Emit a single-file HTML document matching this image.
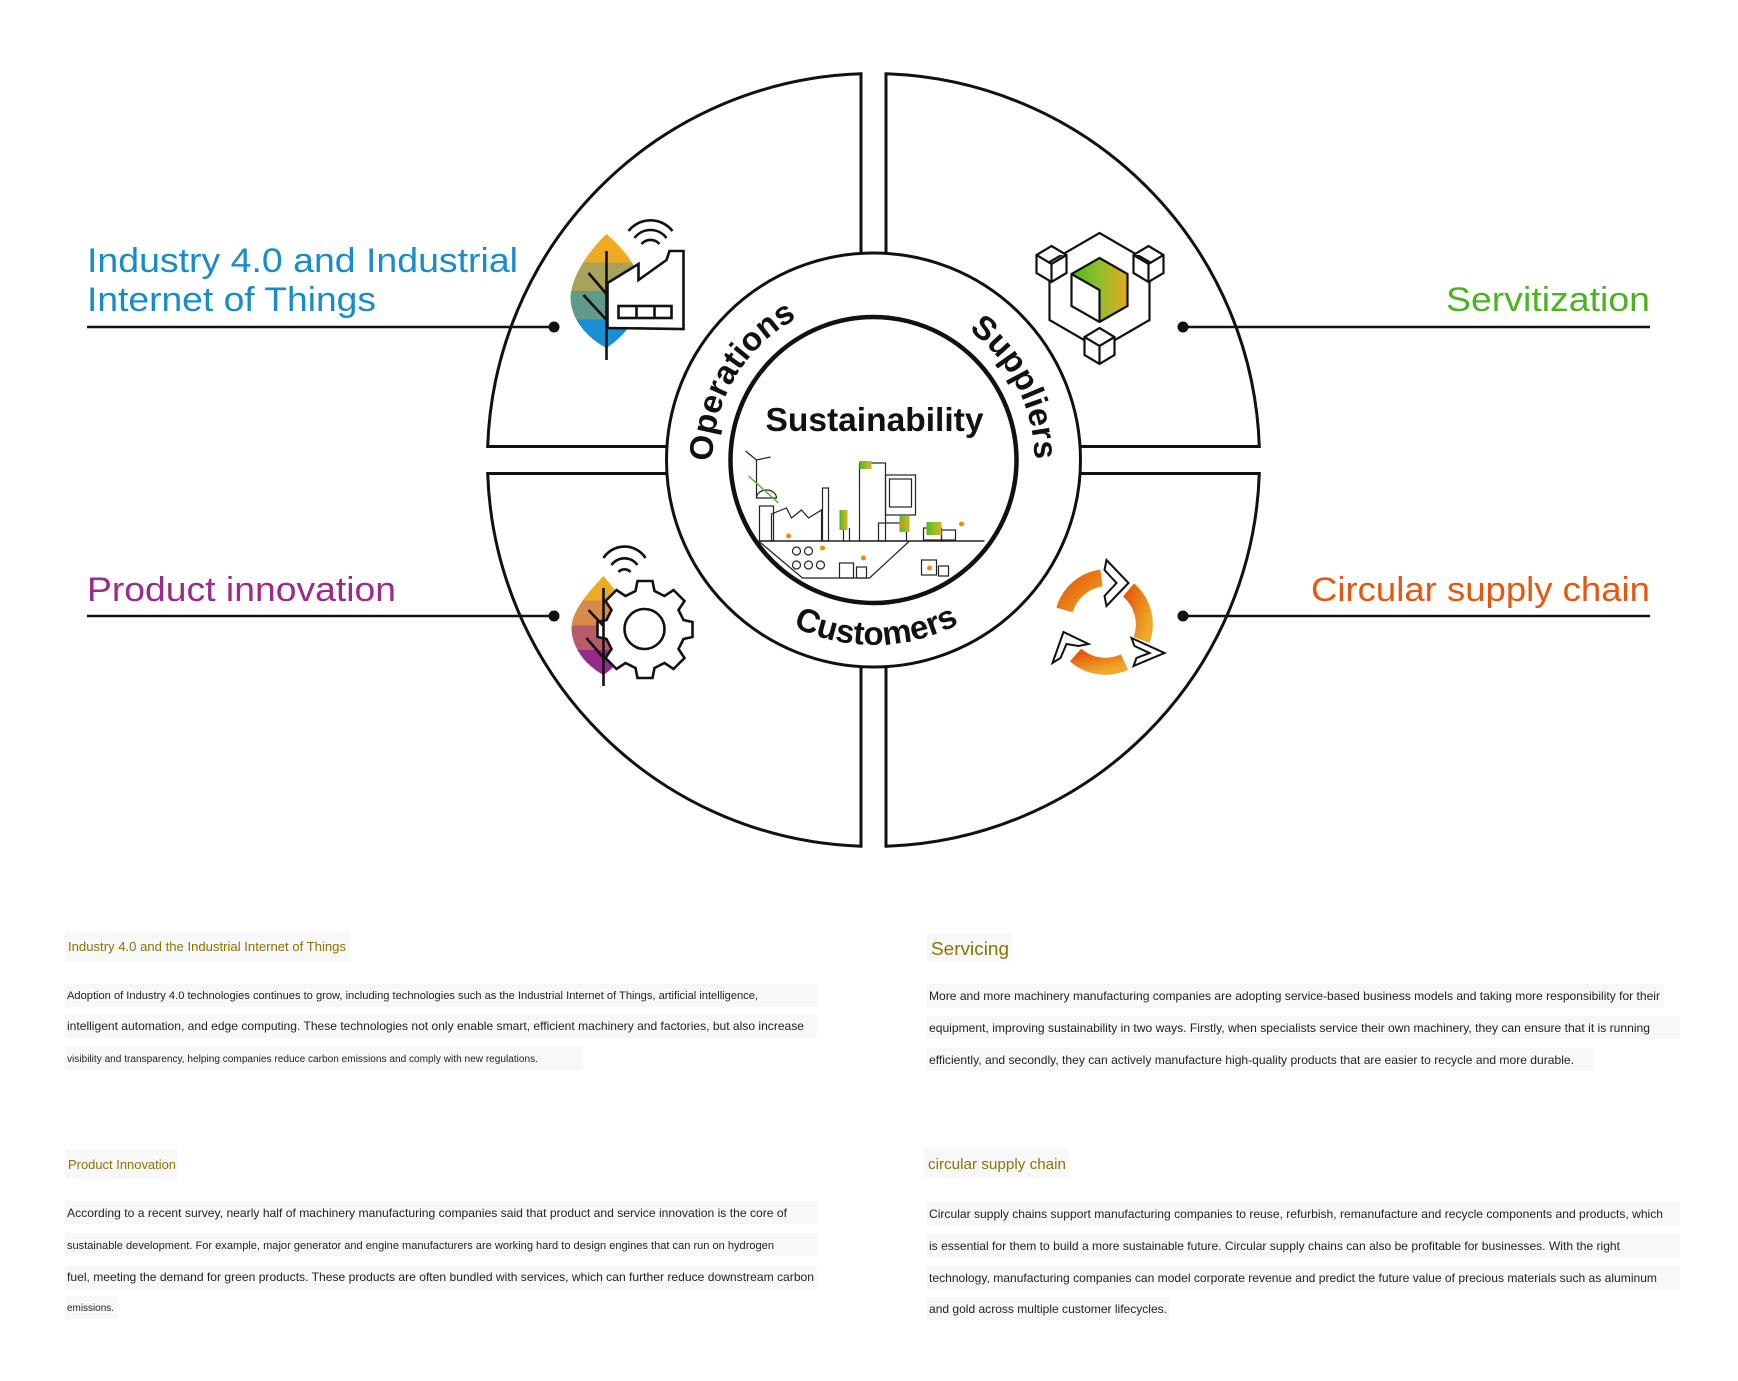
<!DOCTYPE html>
<html><head><meta charset="utf-8"><style>
html,body{margin:0;padding:0;background:#fff;}
svg{display:block;}
text{font-family:"Liberation Sans",sans-serif;}
</style></head><body>
<svg width="1738" height="1381" viewBox="0 0 1738 1381" xmlns="http://www.w3.org/2000/svg">
<defs>
<linearGradient id="lf1" x1="0" y1="0" x2="0" y2="1">
<stop offset="0" stop-color="#eeaa22"/><stop offset="0.25" stop-color="#eeaa22"/>
<stop offset="0.25" stop-color="#a8a25a"/><stop offset="0.5" stop-color="#a8a25a"/>
<stop offset="0.5" stop-color="#5f9a8a"/><stop offset="0.75" stop-color="#5f9a8a"/>
<stop offset="0.75" stop-color="#1a8fd4"/><stop offset="1" stop-color="#1a8fd4"/>
</linearGradient>
<linearGradient id="lf2" x1="0" y1="0" x2="0" y2="1">
<stop offset="0" stop-color="#eeaa22"/><stop offset="0.25" stop-color="#eeaa22"/>
<stop offset="0.25" stop-color="#d88a4a"/><stop offset="0.5" stop-color="#d88a4a"/>
<stop offset="0.5" stop-color="#b85a6a"/><stop offset="0.75" stop-color="#b85a6a"/>
<stop offset="0.75" stop-color="#952a8a"/><stop offset="1" stop-color="#952a8a"/>
</linearGradient>
<linearGradient id="gc" x1="0" y1="0" x2="1" y2="0">
<stop offset="0" stop-color="#52b820"/><stop offset="0.5" stop-color="#8fbf2a"/><stop offset="1" stop-color="#e8a824"/>
</linearGradient>
<linearGradient id="og" x1="0" y1="0" x2="1" y2="1">
<stop offset="0" stop-color="#e55a0a"/><stop offset="1" stop-color="#f0aa2a"/>
</linearGradient>
<path id="tp" d="M 716 462 A 161 161 0 0 1 1038 462"/>
<path id="bp" d="M 692 462 A 185 185 0 0 0 1062 462"/>
</defs>

<g transform="translate(-3.5,-2)">
<g fill="none" stroke="#111" stroke-width="3">
<path d="M 864.5 255.4 L 864.5 75.8 A 386 386 0 0 0 491.2 448.5 L 670.6 448.5"/>
<path d="M 889.5 255.4 L 889.5 75.8 A 386 386 0 0 1 1262.8 448.5 L 1083.4 448.5"/>
<path d="M 864.5 668.6 L 864.5 848.2 A 386 386 0 0 1 491.2 475.5 L 670.6 475.5"/>
<path d="M 889.5 668.6 L 889.5 848.2 A 386 386 0 0 0 1262.8 475.5 L 1083.4 475.5"/>
<circle cx="877" cy="462" r="207"/>
<circle cx="877" cy="462" r="143" stroke-width="4.5"/>
</g>

<g font-size="33" font-weight="bold" fill="#111">
<text><textPath href="#tp" startOffset="17%" text-anchor="middle">Operations</textPath></text>
<text><textPath href="#tp" startOffset="85%" text-anchor="middle">Suppliers</textPath></text>
<text><textPath href="#bp" startOffset="50.5%" text-anchor="middle">Customers</textPath></text>
</g>
<text x="769" y="433" font-size="33" font-weight="bold" fill="#111" textLength="218" lengthAdjust="spacingAndGlyphs">Sustainability</text>

<g fill="none" stroke="#222" stroke-width="1.2">
<line x1="762" y1="543" x2="988" y2="543" stroke-width="1.6"/>
<path d="M 762 543 L 806 580 L 873 580 L 913 543"/>
<rect x="763" y="508" width="14" height="35"/>
<path d="M 760 500 a 10 8 0 0 1 20 0 z"/>
<line x1="760" y1="500" x2="760" y2="462"/>
<line x1="760" y1="462" x2="749" y2="453"/><line x1="760" y1="462" x2="774" y2="459"/>
<path d="M 775 543 L 775 516 L 790 510 L 795 520 L 805 512 L 812 520 L 825 512 L 825 543"/>
<rect x="826" y="490" width="6" height="53"/>
<rect x="863" y="465" width="26" height="78"/>
<rect x="889" y="477" width="30" height="40"/>
<rect x="893" y="481" width="22" height="28"/>
<rect x="882" y="525" width="28" height="18"/>
<rect x="927" y="530" width="18" height="12"/>
<rect x="945" y="532" width="14" height="10"/>
<circle cx="800" cy="553" r="4"/><circle cx="812" cy="553" r="4"/>
<circle cx="800" cy="567" r="4"/><circle cx="812" cy="567" r="4"/><circle cx="824" cy="567" r="4"/>
<rect x="843" y="565" width="14" height="15"/><rect x="860" y="569" width="10" height="11"/>
<rect x="925" y="562" width="15" height="15"/><rect x="942" y="568" width="10" height="10"/>
<line x1="847" y1="530" x2="847" y2="543"/><line x1="853" y1="530" x2="853" y2="543"/>
</g>
<rect x="863" y="463" width="12" height="8" fill="url(#gc)"/>
<rect x="930" y="524" width="15" height="13" fill="url(#gc)"/>
<rect x="843" y="512" width="8" height="20" fill="url(#gc)"/>
<rect x="903" y="518" width="10" height="16" fill="url(#gc)"/>
<line x1="752" y1="478" x2="782" y2="505" stroke="#52b820" stroke-width="1.5"/>
<g fill="#f08a10"><circle cx="792" cy="538" r="2.5"/><circle cx="826" cy="550" r="2.5"/><circle cx="867" cy="560" r="2.5"/><circle cx="905" cy="526" r="2.5"/><circle cx="965" cy="526" r="2.5"/><circle cx="933" cy="570" r="2.5"/></g>

<path d="M 610 236 C 585 260 574 285 574 300 C 574 320 590 340 610 350 C 632 335 645 315 645 295 C 645 275 632 255 610 236 Z" fill="url(#lf1)"/>
<g fill="none" stroke="#111" stroke-width="2.6">
<line x1="610" y1="253" x2="610" y2="362"/>
<path d="M 592 275 L 610 296 M 587 297 L 610 322 M 622 288 L 628 275"/>
<path d="M 611 330 L 611 285 L 642 266 L 642 282 L 670 262 L 673 253 L 687 253 L 687 331 Z" fill="#fff"/>
<rect x="622" y="308" width="53" height="12"/>
<line x1="640" y1="308" x2="640" y2="320"/><line x1="658" y1="308" x2="658" y2="320"/>
<path d="M 638 240 A 20 20 0 0 1 670 240"/>
<path d="M 632 233 A 28 28 0 0 1 676 233"/>
<path d="M 645 246 A 12 12 0 0 1 663 246"/>
</g>

<g fill="none" stroke="#111" stroke-width="2.2">
<path d="M 1103 235 L 1153 264 L 1153 322 L 1103 351 L 1053 322 L 1053 264 Z"/>
<path d="M 1055 248 L 1070 257 L 1070 275 L 1055 284 L 1040 275 L 1040 257 Z M 1040 257 L 1055 266 L 1070 257 M 1055 266 L 1055 284" fill="#fff"/>
<path d="M 1152 248 L 1167 257 L 1167 275 L 1152 284 L 1137 275 L 1137 257 Z M 1137 257 L 1152 266 L 1167 257 M 1152 266 L 1152 284" fill="#fff"/>
<path d="M 1103 330 L 1118 339 L 1118 357 L 1103 366 L 1088 357 L 1088 339 Z M 1088 339 L 1103 348 L 1118 339 M 1103 348 L 1103 366" fill="#fff"/>
</g>
<path d="M 1103 260 L 1131 276 L 1131 308 L 1103 324 L 1103 292 L 1075 276 Z" fill="url(#gc)"/>
<path d="M 1103 260 L 1131 276 L 1131 308 L 1103 324 L 1075 308 L 1075 276 Z M 1075 276 L 1103 292 L 1103 324" fill="none" stroke="#111" stroke-width="2.2"/>

<path d="M 607 578 C 588 598 575 615 575 630 C 575 650 590 668 607 677 C 625 665 632 648 632 630 C 632 612 622 595 607 578 Z" fill="url(#lf2)"/>
<g fill="none" stroke="#111" stroke-width="2.6">
<path d="M 641 583 L 656 583 L 658 593 L 668 598 L 677 592 L 688 603 L 682 612 L 687 622 L 696 624 L 696 639 L 687 641 L 682 651 L 688 660 L 677 671 L 668 665 L 658 670 L 656 680 L 641 680 L 639 670 L 629 665 L 620 671 L 609 660 L 615 651 L 610 641 L 601 639 L 601 624 L 610 622 L 615 612 L 609 603 L 620 592 L 629 598 L 639 593 Z" fill="#fff"/>
<circle cx="648" cy="631" r="20"/>
<line x1="607" y1="590" x2="607" y2="688"/>
<path d="M 592 612 L 607 628 M 590 640 L 607 660"/>
<path d="M 615 567 A 16 16 0 0 1 641 567"/>
<path d="M 607 560 A 25 25 0 0 1 649 560"/>
<path d="M 622 574 A 8 8 0 0 1 634 574"/>
</g>

<g fill="none" stroke-width="17">
<path d="M 1068 612 A 45 45 0 0 1 1105 580" stroke="url(#og)"/>
<path d="M 1132 592 A 45 45 0 0 1 1145 642" stroke="url(#og)"/>
<path d="M 1128 664 A 45 45 0 0 1 1079 657" stroke="url(#og)"/>
</g>
<g fill="none" stroke="#111" stroke-width="2">
<path d="M 1110 562 L 1132 585 L 1110 608 L 1108 598 L 1120 585 L 1108 572 Z"/>
<path d="M 1135 640 L 1168 655 L 1137 668 L 1140 660 L 1153 655 L 1138 648 Z"/>
<path d="M 1056 665 L 1067 634 L 1092 646 L 1082 648 L 1070 646 L 1064 660 Z"/>
</g>
</g>

<g stroke="#111" stroke-width="2.5">
<line x1="87" y1="327" x2="554" y2="327"/>
<line x1="1183" y1="327" x2="1650" y2="327"/>
<line x1="87" y1="616" x2="554" y2="616"/>
<line x1="1183" y1="616" x2="1650" y2="616"/>
</g>
<g fill="#111"><circle cx="554" cy="327" r="5.5"/><circle cx="1183" cy="327" r="5.5"/><circle cx="554" cy="616" r="5.5"/><circle cx="1183" cy="616" r="5.5"/></g>

<g font-size="34">
<text x="87" y="272" fill="#168ccc" textLength="431" lengthAdjust="spacingAndGlyphs">Industry 4.0 and Industrial</text>
<text x="87" y="311" fill="#168ccc" textLength="289" lengthAdjust="spacingAndGlyphs">Internet of Things</text>
<text x="1446" y="311" fill="#4bb31e" textLength="204" lengthAdjust="spacingAndGlyphs">Servitization</text>
<text x="87" y="601" fill="#9c2a8e" textLength="309" lengthAdjust="spacingAndGlyphs">Product innovation</text>
<text x="1311" y="601" fill="#e5570f" textLength="339" lengthAdjust="spacingAndGlyphs">Circular supply chain</text>
</g>

<g fill="#f7f8f8">
<rect x="65" y="931" width="285" height="31"/>
<rect x="65" y="984" width="752" height="23"/>
<rect x="65" y="1014" width="752" height="24"/>
<rect x="65" y="1047" width="518" height="23"/>
<rect x="926" y="933" width="86" height="28"/>
<rect x="926" y="984" width="738" height="24"/>
<rect x="926" y="1016" width="754" height="23"/>
<rect x="926" y="1048" width="667" height="23"/>
<rect x="65" y="1149" width="113" height="30"/>
<rect x="924" y="1148" width="145" height="30"/>
<rect x="65" y="1201" width="752" height="23"/>
<rect x="65" y="1233" width="752" height="23"/>
<rect x="65" y="1266" width="752" height="23"/>
<rect x="65" y="1296" width="52" height="23"/>
<rect x="926" y="1202" width="754" height="23"/>
<rect x="926" y="1234" width="754" height="23"/>
<rect x="926" y="1266" width="754" height="23"/>
<rect x="926" y="1297" width="244" height="23"/>
</g>

<g fill="#8b7306">
<text x="68" y="951" font-size="13" textLength="278" lengthAdjust="spacingAndGlyphs">Industry 4.0 and the Industrial Internet of Things</text>
<text x="931" y="955" font-size="18" textLength="78" lengthAdjust="spacingAndGlyphs">Servicing</text>
<text x="68" y="1169" font-size="13" textLength="108" lengthAdjust="spacingAndGlyphs">Product Innovation</text>
<text x="928" y="1169" font-size="15" textLength="138" lengthAdjust="spacingAndGlyphs">circular supply chain</text>
</g>
<g fill="#222">
<text x="67" y="999" font-size="11" textLength="691" lengthAdjust="spacingAndGlyphs">Adoption of Industry 4.0 technologies continues to grow, including technologies such as the Industrial Internet of Things, artificial intelligence,</text>
<text x="67" y="1030" font-size="12" textLength="737" lengthAdjust="spacingAndGlyphs">intelligent automation, and edge computing. These technologies not only enable smart, efficient machinery and factories, but also increase</text>
<text x="67" y="1062" font-size="10" textLength="471" lengthAdjust="spacingAndGlyphs">visibility and transparency, helping companies reduce carbon emissions and comply with new regulations.</text>

<text x="929" y="1000" font-size="12" textLength="731" lengthAdjust="spacingAndGlyphs">More and more machinery manufacturing companies are adopting service-based business models and taking more responsibility for their</text>
<text x="929" y="1032" font-size="12" textLength="721" lengthAdjust="spacingAndGlyphs">equipment, improving sustainability in two ways. Firstly, when specialists service their own machinery, they can ensure that it is running</text>
<text x="929" y="1064" font-size="12" textLength="645" lengthAdjust="spacingAndGlyphs">efficiently, and secondly, they can actively manufacture high-quality products that are easier to recycle and more durable.</text>

<text x="67" y="1217" font-size="12" textLength="720" lengthAdjust="spacingAndGlyphs">According to a recent survey, nearly half of machinery manufacturing companies said that product and service innovation is the core of</text>
<text x="67" y="1249" font-size="11" textLength="707" lengthAdjust="spacingAndGlyphs">sustainable development. For example, major generator and engine manufacturers are working hard to design engines that can run on hydrogen</text>
<text x="67" y="1281" font-size="12" textLength="747" lengthAdjust="spacingAndGlyphs">fuel, meeting the demand for green products. These products are often bundled with services, which can further reduce downstream carbon</text>
<text x="67" y="1311" font-size="10" textLength="47" lengthAdjust="spacingAndGlyphs">emissions.</text>

<text x="929" y="1218" font-size="12" textLength="734" lengthAdjust="spacingAndGlyphs">Circular supply chains support manufacturing companies to reuse, refurbish, remanufacture and recycle components and products, which</text>
<text x="929" y="1250" font-size="12" textLength="691" lengthAdjust="spacingAndGlyphs">is essential for them to build a more sustainable future. Circular supply chains can also be profitable for businesses. With the right</text>
<text x="929" y="1282" font-size="12" textLength="728" lengthAdjust="spacingAndGlyphs">technology, manufacturing companies can model corporate revenue and predict the future value of precious materials such as aluminum</text>
<text x="929" y="1313" font-size="12" textLength="238" lengthAdjust="spacingAndGlyphs">and gold across multiple customer lifecycles.</text>
</g>
</svg>
</body></html>
